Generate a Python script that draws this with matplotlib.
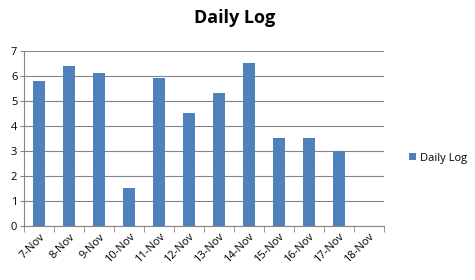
import numpy as np
import matplotlib
matplotlib.use("Agg")
import matplotlib.pyplot as plt
from matplotlib.patches import Patch

dates = ["7-Nov", "8-Nov", "9-Nov", "10-Nov", "11-Nov", "12-Nov",
         "13-Nov", "14-Nov", "15-Nov", "16-Nov", "17-Nov", "18-Nov"]
values = [5.8, 6.4, 6.1, 1.5, 5.9, 4.5, 5.3, 6.5, 3.5, 3.5, 3.0, np.nan]
series_name = "Daily Log"
yticks = [0, 1, 2, 3, 4, 5, 6, 7]

bar_color = "#4F81BD"
grid_color = "#868686"

plt.rcParams['font.family'] = ['Open Sans', 'DejaVu Sans']

fig = plt.figure(figsize=(4.75, 2.8), dpi=100)
ax = fig.add_axes([0.051, 0.193, 0.757, 0.625])

x = np.arange(len(dates))
ax.bar(x, values, width=0.4, color=bar_color, zorder=3)

ax.set_xlim(-0.5, len(dates) - 0.5)
ax.set_ylim(0, 7)
ax.set_yticks(yticks)
ax.yaxis.grid(True, color=grid_color, linewidth=0.8, zorder=0)

# category labels at bar centres, tick marks at category boundaries
ax.set_xticks(x)
ax.set_xticklabels(dates, rotation=45, ha="right", rotation_mode="anchor",
                   fontsize=8)
ax.tick_params(axis="x", length=0, pad=4)
ax.set_xticks(np.arange(len(dates) + 1) - 0.5, minor=True)
ax.tick_params(axis="x", which="minor", length=4, color=grid_color,
               direction="out")
ax.tick_params(axis="y", length=3, color=grid_color, labelsize=8, pad=2)

for side in ("top", "right"):
    ax.spines[side].set_visible(False)
for side in ("left", "bottom"):
    ax.spines[side].set_color(grid_color)
    ax.spines[side].set_linewidth(0.8)

fig.text(0.495, 0.935, series_name, ha="center", va="center",
         fontsize=13, fontweight="bold")

handle = Patch(facecolor=bar_color, edgecolor="none")
fig.legend([handle], [series_name], loc="center left",
           bbox_to_anchor=(0.84, 0.435), frameon=False, fontsize=8,
           handlelength=0.6, handleheight=0.6, handletextpad=0.4)

fig.savefig("out.png", dpi=100)
